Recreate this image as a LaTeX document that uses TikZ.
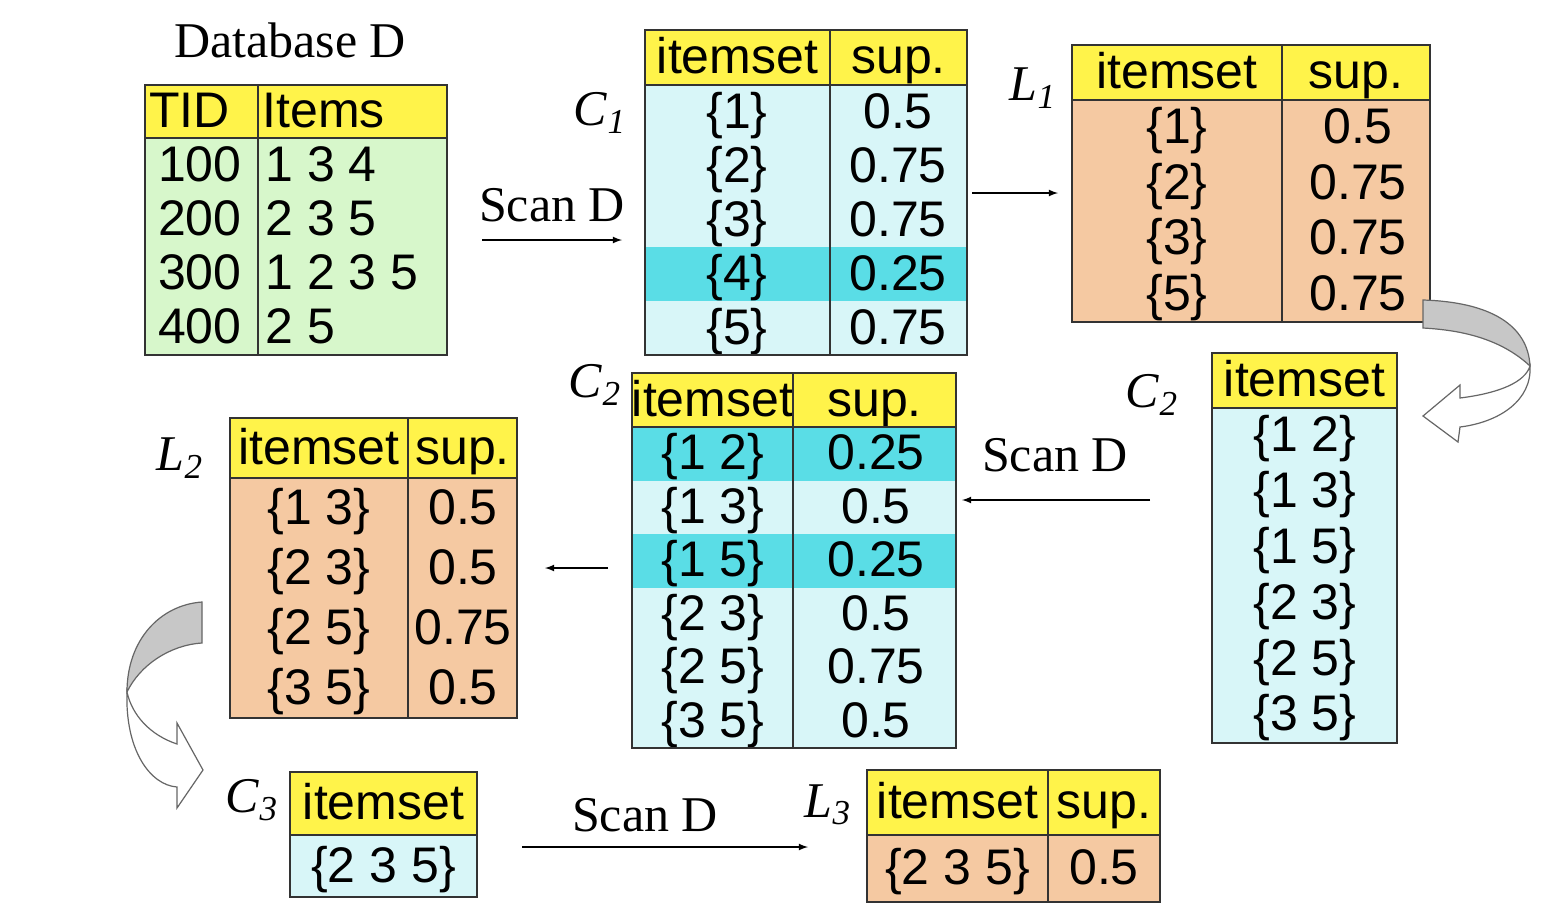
\documentclass[tikz,border=0pt]{standalone}
\usepackage{fontspec}
\setmainfont{Liberation Serif}
\newfontfamily\sansf{Liberation Sans}
\definecolor{yel}{HTML}{FFF34A}
\definecolor{grn}{HTML}{D7F7CB}
\definecolor{cya}{HTML}{D8F6F8}
\definecolor{hcy}{HTML}{5ADDE6}
\definecolor{org}{HTML}{F5C9A2}
\newcommand\cel[7]{\draw[cellb,fill=#6] (#2,#3) rectangle (#4,#5); \node[txt] (#1) at ({(#2+#4)/2},{(#3+#5)/2}) {#7};}
\newcommand\cell[7]{\draw[cellb,fill=#6] (#2,#3) rectangle (#4,#5); \node[txt,anchor=west] (#1) at ({#2+4},{(#3+#5)/2}) {#7};}
\newcommand\lab[4]{\node[lbl] (#1) at (#2,#3) {#4};}
\newcommand\sub[2]{\textit{#1}\textsubscript{\textit{#2}}}
\begin{document}
\begin{tikzpicture}[x=0.5pt,y=-0.5pt,
 cellb/.style={draw=black!80,line width=1.3pt},
 txt/.style={font=\sansf\fontsize{25}{30}\selectfont,inner sep=0pt,text height=19.5pt,text depth=3.5pt},
 lbl/.style={font=\fontsize{25}{30}\selectfont,inner sep=0pt},
 arr/.style={-latex,line width=0.6pt},
 rib/.style={draw=black!60,line width=0.6pt}]
\useasboundingbox[fill=white] (0,0) rectangle (1564,918);
% Database D
\lab{dbt}{290}{40}{Database D}
\cell{dh1}{145}{85}{258}{138}{yel}{TID}
\cell{dh2}{258}{85}{447}{138}{yel}{Items}
\draw[cellb,fill=grn] (145,138) rectangle (447,355);
\draw[cellb] (258,138) -- (258,355);
\foreach \r/\a/\b [count=\i] in {100/1 3 4,200/2 3 5,300/1 2 3 5,400/2 5}{
 \node[txt,anchor=east] (dt\i) at (242,{138+54.25*(\i-0.5)}) {\r};
 \node[txt,anchor=west] (di\i) at (265,{138+54.25*(\i-0.5)}) {\b};}
% Scan D 1
\lab{s1}{552}{205}{Scan D}
\coordinate (s1a) at (482,240); \coordinate (s1b) at (622,240);
\draw[arr] (s1a) -- (s1b);
% C1
\lab{c1l}{600}{113}{\sub{C}{1}}
\cel{c1h1}{645}{30}{830}{85}{yel}{itemset}
\cel{c1h2}{830}{30}{967}{85}{yel}{sup.}
\foreach \s/\v/\f [count=\i] in {\{1\}/0.5/cya,\{2\}/0.75/cya,\{3\}/0.75/cya,\{4\}/0.25/hcy,\{5\}/0.75/cya}{
 \pgfmathsetmacro\ya{85+54*(\i-1)}\pgfmathsetmacro\yb{85+54*\i}
 \fill[\f] (645,\ya) rectangle (967,\yb);
 \node[txt] (c1a\i) at (737,{(\ya+\yb)/2}) {\s};
 \node[txt] (c1b\i) at (898,{(\ya+\yb)/2}) {\v};}
\draw[cellb] (645,85) rectangle (967,355) (830,85) -- (830,355);
% arrow C1 -> L1
\coordinate (a1) at (972,193); \coordinate (a2) at (1058,193);
\draw[arr] (a1) -- (a2);
% L1
\lab{l1l}{1033}{88}{\sub{L}{1}}
\cel{l1h1}{1072}{45}{1282}{100}{yel}{itemset}
\cel{l1h2}{1282}{45}{1430}{100}{yel}{sup.}
\draw[cellb,fill=org] (1072,100) rectangle (1430,322) (1282,100) -- (1282,322);
\foreach \s/\v [count=\i] in {\{1\}/0.5,\{2\}/0.75,\{3\}/0.75,\{5\}/0.75}{
 \node[txt] (l1a\i) at (1177,{100+55.5*(\i-0.5)}) {\s};
 \node[txt] (l1b\i) at (1358,{100+55.5*(\i-0.5)}) {\v};}
% curved arrow right
\draw[rib,fill=black!22] (1423,300) .. controls (1490,302) and (1528,325) .. (1530,366) .. controls (1500,338) and (1460,330) .. (1423,328) -- cycle;
\draw[rib,fill=white] (1530,366) .. controls (1532,400) and (1500,422) .. (1460,427) -- (1458,442) -- (1423,416) -- (1460,385) -- (1460,398) .. controls (1500,393) and (1525,382) .. (1530,366) -- cycle;
% C2 right
\lab{c2rl}{1152}{395}{\sub{C}{2}}
\cel{c2rh}{1212}{353}{1397}{408}{yel}{itemset}
\draw[cellb,fill=cya] (1212,408) rectangle (1397,743);
\foreach \s [count=\i] in {\{1 2\},\{1 3\},\{1 5\},\{2 3\},\{2 5\},\{3 5\}}{
 \node[txt] (c2r\i) at (1305,{408+55.8*(\i-0.5)}) {\s};}
% Scan D 2
\lab{s2}{1055}{455}{Scan D}
\coordinate (s2a) at (1150,500); \coordinate (s2b) at (962,500);
\draw[arr] (s2a) -- (s2b);
% C2 middle
\lab{c2ml}{595}{385}{\sub{C}{2}}
\cel{c2h1}{632}{373}{793}{427}{yel}{itemset}
\cel{c2h2}{793}{373}{956}{427}{yel}{sup.}
\foreach \s/\v/\f [count=\i] in {\{1 2\}/0.25/hcy,\{1 3\}/0.5/cya,\{1 5\}/0.25/hcy,\{2 3\}/0.5/cya,\{2 5\}/0.75/cya,\{3 5\}/0.5/cya}{
 \pgfmathsetmacro\ya{427+53.5*(\i-1)}\pgfmathsetmacro\yb{427+53.5*\i}
 \fill[\f] (632,\ya) rectangle (956,\yb);
 \node[txt] (c2a\i) at (713,{(\ya+\yb)/2}) {\s};
 \node[txt] (c2b\i) at (876,{(\ya+\yb)/2}) {\v};}
\draw[cellb] (632,427) rectangle (956,748) (793,427) -- (793,748);
% arrow C2 -> L2
\coordinate (b1) at (608,568); \coordinate (b2) at (545,568);
\draw[arr] (b1) -- (b2);
% L2
\lab{l2l}{180}{458}{\sub{L}{2}}
\cel{l2h1}{230}{418}{408}{478}{yel}{itemset}
\cel{l2h2}{408}{418}{517}{478}{yel}{sup.}
\draw[cellb,fill=org] (230,478) rectangle (517,718) (408,478) -- (408,718);
\foreach \s/\v [count=\i] in {\{1 3\}/0.5,\{2 3\}/0.5,\{2 5\}/0.75,\{3 5\}/0.5}{
 \node[txt] (l2a\i) at (319,{478+60*(\i-0.5)}) {\s};
 \node[txt] (l2b\i) at (463,{478+60*(\i-0.5)}) {\v};}
% curved arrow left
\draw[rib,fill=black!22] (202,602) .. controls (160,605) and (127,640) .. (127,692) .. controls (140,665) and (170,645) .. (202,643) -- cycle;
\draw[rib,fill=white] (127,692) .. controls (125,750) and (150,785) .. (177,787) -- (177,808) -- (203,770) -- (177,723) -- (177,744) .. controls (150,735) and (132,715) .. (127,692) -- cycle;
% C3
\lab{c3l}{252}{800}{\sub{C}{3}}
\cel{c3h}{290}{772}{477}{835}{yel}{itemset}
\cel{c3r}{290}{835}{477}{897}{cya}{\{2 3 5\}}
% Scan D 3
\lab{s3}{645}{815}{Scan D}
\coordinate (s3a) at (522,847); \coordinate (s3b) at (808,847);
\draw[arr] (s3a) -- (s3b);
% L3
\lab{l3l}{828}{805}{\sub{L}{3}}
\cel{l3h1}{867}{770}{1048}{835}{yel}{itemset}
\cel{l3h2}{1048}{770}{1160}{835}{yel}{sup.}
\cel{l3r1}{867}{835}{1048}{902}{org}{\{2 3 5\}}
\cel{l3r2}{1048}{835}{1160}{902}{org}{0.5}
\end{tikzpicture}
\end{document}
